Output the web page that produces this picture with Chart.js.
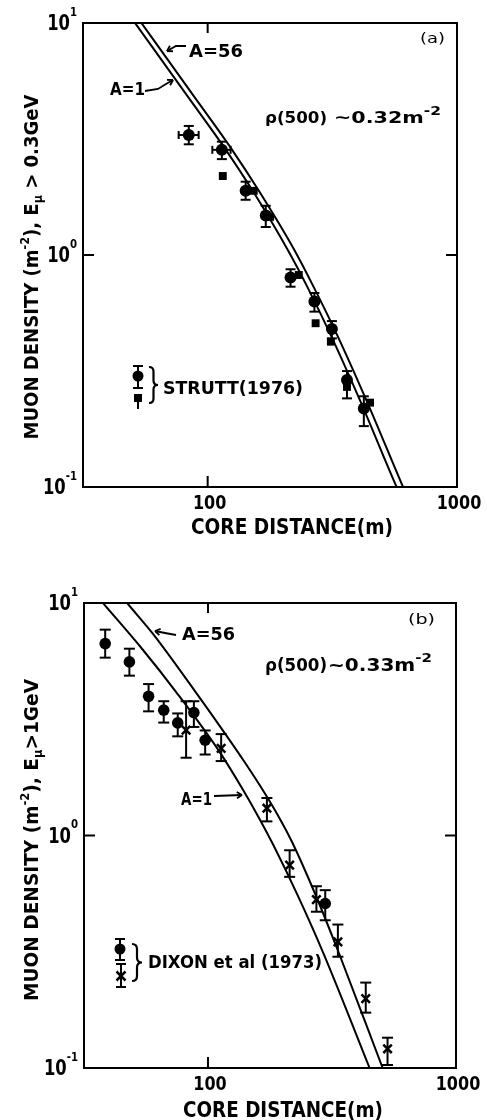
<!DOCTYPE html>
<html><head><meta charset="utf-8">
<script src="https://cdn.jsdelivr.net/npm/chart.js@4/dist/chart.umd.min.js"></script>
<style>
html,body{margin:0;padding:0;background:#fff;}
#wrap{position:relative;width:487px;height:1120px;background:#fff;}
canvas{position:absolute;left:0;}
</style></head><body>
<div id="wrap">
<canvas id="ca" width="487" height="560" style="top:0px"></canvas>
<canvas id="cb" width="487" height="560" style="top:560px"></canvas>
</div>
<script>
// ---------- tick labels ----------
const xTickVals = [100, 1000];
const xTickText = ['100', '1000'];
const yTickVals = [0.1, 1, 10];
const yTickBase = ['10', '10', '10'];
const yTickExp  = ['-1', '0', '1'];

// ---------- panel (a): STRUTT (1976), E_mu > 0.3 GeV ----------
const aCircleX   = [84, 114, 142, 171, 215, 268, 315, 362, 423];
const aCircleY   = [3.29, 2.84, 1.89, 1.48, 0.80, 0.63, 0.48, 0.289, 0.218];
const aCircleLo  = [3.00, 2.59, 1.73, 1.32, 0.73, 0.57, 0.437, 0.241, 0.183];
const aCircleHi  = [3.60, 3.08, 2.07, 1.63, 0.868, 0.686, 0.519, 0.316, 0.246];
const aCircleXLo = [76.5, 104.4, null, null, null, null, null, null, null];
const aCircleXHi = [92, 123.6, null, null, null, null, null, null, null];
const aSquareX   = [115, 153, 178, 232, 271, 312, 362, 448];
const aSquareY   = [2.19, 1.89, 1.46, 0.82, 0.508, 0.423, 0.270, 0.231];
const aA56X = [54, 88, 124, 163, 221, 266, 330, 435, 610, 640];
const aA56Y = [10.07, 4.84, 2.89, 1.84, 1.066, 0.729, 0.454, 0.234, 0.099, 0.088];
const aA1X  = [50.9, 83, 117, 154, 208, 251, 311, 410, 575, 605];
const aA1Y  = [10.07, 4.84, 2.89, 1.84, 1.066, 0.729, 0.454, 0.234, 0.099, 0.088];

// ---------- panel (b): DIXON et al (1973), E_mu > 1 GeV ----------
const bCircleX  = [38.5, 48.2, 57.6, 66.3, 75.5, 87.7, 97.4, 297];
const bCircleY  = [6.69, 5.58, 3.97, 3.46, 3.05, 3.38, 2.57, 0.51];
const bCircleLo = [5.82, 4.87, 3.42, 3.06, 2.67, 2.93, 2.23, 0.432];
const bCircleHi = [7.68, 6.36, 4.48, 3.78, 3.35, 3.78, 2.83, 0.582];
const bCrossX   = [81.6, 113, 172.8, 213.4, 273.6, 334, 432.6, 529.6];
const bCrossY   = [2.84, 2.37, 1.31, 0.745, 0.53, 0.349, 0.199, 0.121];
const bCrossLo  = [2.16, 2.09, 1.15, 0.664, 0.47, 0.301, 0.173, 0.103];
const bCrossHi  = [3.78, 2.73, 1.45, 0.864, 0.605, 0.414, 0.233, 0.135];
const bA56X = [46.2, 47.4, 59.8, 88, 117, 140, 166.5, 194, 218, 270, 338, 502.5, 530];
const bA56Y = [10.3, 9.95, 7.4, 4.22, 2.75, 2.08, 1.565, 1.19, 0.94, 0.563, 0.31, 0.102, 0.088];
const bA1X  = [37.4, 54.5, 74.4, 111, 138, 162, 183, 230, 291.5, 445, 470];
const bA1Y  = [10.1, 6.31, 4.14, 2.30, 1.58, 1.17, 0.915, 0.553, 0.313, 0.102, 0.088];

const FONT = "'DejaVu Sans', sans-serif";
const pts = (xs, ys) => xs.map((x, i) => ({x: x, y: ys[i]}));
const idxOf = (arr, v) => arr.findIndex(t => Math.abs(t - v) < 1e-6 * t);

// ---------- drawing helpers ----------
function seg(ctx, x1, y1, x2, y2) { ctx.beginPath(); ctx.moveTo(x1, y1); ctx.lineTo(x2, y2); ctx.stroke(); }
// parts: [text, kind] kind 0 normal, 1 superscript, -1 subscript
function drawRich(ctx, parts, x, y, size, o) {
  o = o || {};
  const wt = o.bold === false ? '' : 'bold ';
  const segs = parts.map(([s, k]) => {
    const fs = k ? size * (o.supSize || 0.62) : size;
    ctx.font = wt + fs + 'px ' + FONT;
    return {s, k, fs, w: ctx.measureText(s).width};
  });
  const natural = segs.reduce((a, b) => a + b.w, 0);
  const sx = o.w ? o.w / natural : (o.sx || 1);
  const total = natural * sx;
  ctx.save(); ctx.translate(x, y); if (o.rot) ctx.rotate(o.rot);
  let cx = o.align === 'center' ? -total / 2 : o.align === 'right' ? -total : 0;
  ctx.textBaseline = 'alphabetic'; ctx.textAlign = 'left';
  segs.forEach(g => {
    ctx.font = wt + g.fs + 'px ' + FONT;
    const oy = g.k === 1 ? -size * (o.supRaise || 0.45) : g.k === -1 ? size * 0.22 : 0;
    ctx.save(); ctx.translate(cx, oy); ctx.scale(sx, 1); ctx.fillText(g.s, 0, 0); ctx.restore();
    cx += g.w * sx;
  });
  ctx.restore();
}
function drawArrow(ctx, p) {
  ctx.lineWidth = 1.8;
  ctx.beginPath(); ctx.moveTo(p[0][0], p[0][1]);
  for (let i = 1; i < p.length; i++) ctx.lineTo(p[i][0], p[i][1]);
  ctx.stroke();
  const [ax, ay] = p[p.length - 1], [bx, by] = p[p.length - 2];
  const ang = Math.atan2(ay - by, ax - bx), L = 6;
  seg(ctx, ax, ay, ax - L * Math.cos(ang - 0.55), ay - L * Math.sin(ang - 0.55));
  seg(ctx, ax, ay, ax - L * Math.cos(ang + 0.55), ay - L * Math.sin(ang + 0.55));
}
function drawBrace(ctx, x, y1, y2, w) {
  const ym = (y1 + y2) / 2, h = w / 2;
  ctx.lineWidth = 2.2;
  ctx.beginPath();
  ctx.moveTo(x, y1);
  ctx.quadraticCurveTo(x + h, y1, x + h, y1 + h);
  ctx.lineTo(x + h, ym - h);
  ctx.quadraticCurveTo(x + h, ym, x + w, ym);
  ctx.quadraticCurveTo(x + h, ym, x + h, ym + h);
  ctx.lineTo(x + h, y2 - h);
  ctx.quadraticCurveTo(x + h, y2, x, y2);
  ctx.stroke();
}
function drawKey(ctx, k, dy) {
  const y = k.y - dy;
  ctx.lineWidth = 2;
  if (k.lo != null) {
    const lo = k.lo - dy, hi = k.hi - dy;
    seg(ctx, k.x, lo, k.x, hi); seg(ctx, k.x - 5, lo, k.x + 5, lo); seg(ctx, k.x - 5, hi, k.x + 5, hi);
  }
  if (k.tail != null) seg(ctx, k.x, y, k.x, k.tail - dy);
  if (k.type === 'circle') { ctx.beginPath(); ctx.arc(k.x, y, k.r, 0, 2 * Math.PI); ctx.fill(); }
  if (k.type === 'square') { ctx.fillRect(k.x - 4, y - 4, 8, 8); }
  if (k.type === 'cross') {
    ctx.lineWidth = 2.5;
    seg(ctx, k.x - 4.5, y - 4.5, k.x + 4.5, y + 4.5); seg(ctx, k.x - 4.5, y + 4.5, k.x + 4.5, y - 4.5);
  }
}

// ---------- plugins ----------
const framePlugin = {
  id: 'frame',
  beforeDatasetsDraw(chart) {
    const {ctx, chartArea: a, scales: {x, y}} = chart;
    ctx.save(); ctx.strokeStyle = '#000'; ctx.fillStyle = '#000'; ctx.lineWidth = 2;
    ctx.strokeRect(a.left, a.top, a.right - a.left, a.bottom - a.top);
    // inward tick marks at the interior decades
    y.ticks.forEach(t => { const p = y.getPixelForValue(t.value); if (p > a.top + 2 && p < a.bottom - 2) { seg(ctx, a.left, p, a.left + 11, p); seg(ctx, a.right, p, a.right - 11, p); } });
    x.ticks.forEach(t => { const p = x.getPixelForValue(t.value); if (p > a.left + 2 && p < a.right - 2) { seg(ctx, p, a.bottom, p, a.bottom - 11); seg(ctx, p, a.top, p, a.top + 10); } });
    // tick labels, placed from the library's scale ticks
    y.ticks.forEach(t => {
      const i = idxOf(yTickVals, t.value); if (i < 0) return;
      const p = y.getPixelForValue(t.value);
      drawRich(ctx, [[yTickBase[i], 0], [yTickExp[i], 1]], a.left - 6, p + 7, 21, {align: 'right', sx: 0.78, supRaise: 0.68});
    });
    x.ticks.forEach(t => {
      const i = idxOf(xTickVals, t.value); if (i < 0) return;
      const p = x.getPixelForValue(t.value);
      drawRich(ctx, [[xTickText[i], 0]], p + 2, a.bottom + 22, 20, {align: 'center', sx: 0.8});
    });
    ctx.restore();
  }
};
const errPlugin = {
  id: 'errbars',
  beforeDatasetsDraw(chart) {
    const {ctx, scales: {x, y}} = chart;
    ctx.save(); ctx.strokeStyle = '#000'; ctx.lineWidth = 2;
    chart.data.datasets.forEach(ds => {
      if (!ds.errLo) return;
      const c = ds.capHalf || 5;
      ds.data.forEach((p, i) => {
        const px = x.getPixelForValue(p.x), py = y.getPixelForValue(p.y);
        const lo = y.getPixelForValue(ds.errLo[i]), hi = y.getPixelForValue(ds.errHi[i]);
        seg(ctx, px, lo, px, hi); seg(ctx, px - c, lo, px + c, lo); seg(ctx, px - c, hi, px + c, hi);
        if (ds.errXLo && ds.errXLo[i] != null) {
          const l = x.getPixelForValue(ds.errXLo[i]), r = x.getPixelForValue(ds.errXHi[i]);
          seg(ctx, l, py, r, py); seg(ctx, l, py - 4, l, py + 4); seg(ctx, r, py - 4, r, py + 4);
        }
      });
    });
    ctx.restore();
  }
};
const notesPlugin = {
  id: 'notes',
  afterDraw(chart, args, o) {
    const ctx = chart.ctx, dy = o.offsetY || 0;
    ctx.save(); ctx.fillStyle = '#000'; ctx.strokeStyle = '#000';
    (o.texts || []).forEach(t => drawRich(ctx, t.parts, t.x, t.y - dy, t.size, t));
    (o.arrows || []).forEach(a => drawArrow(ctx, a.map(p => [p[0], p[1] - dy])));
    (o.braces || []).forEach(b => drawBrace(ctx, b.x, b.y1 - dy, b.y2 - dy, b.w));
    (o.keys || []).forEach(k => drawKey(ctx, k, dy));
    ctx.restore();
  }
};

function lineDs(xs, ys) {
  return {data: pts(xs, ys), showLine: true, pointRadius: 0, borderColor: '#000', borderWidth: 2,
          cubicInterpolationMode: 'monotone', fill: false};
}

function buildChart(id, p) {
  return new Chart(document.getElementById(id), {
    type: 'scatter',
    data: {datasets: p.datasets},
    options: {
      responsive: false, animation: false, devicePixelRatio: 1,
      layout: {padding: {left: 0, top: p.top, right: p.right, bottom: 0}},
      plugins: {legend: {display: false}, tooltip: {enabled: false}, notes: p.notes},
      scales: {
        x: {type: 'logarithmic', min: Math.pow(10, 1.5), max: 1000, position: 'bottom',
            grid: {display: false, drawTicks: false}, border: {display: false},
            ticks: {display: false, autoSkip: false},
            afterBuildTicks: s => { s.ticks = xTickVals.map(v => ({value: v})); },
            afterFit: s => { s.height = p.xh; }},
        y: {type: 'logarithmic', min: 0.1, max: 10, position: 'left',
            grid: {display: false, drawTicks: false}, border: {display: false},
            ticks: {display: false, autoSkip: false},
            afterBuildTicks: s => { s.ticks = yTickVals.map(v => ({value: v})); },
            afterFit: s => { s.width = p.yw; }}
      }
    },
    plugins: [framePlugin, errPlugin, notesPlugin]
  });
}

// ---------- panel (a) ----------
buildChart('ca', {
  top: 23, right: 30, xh: 73, yw: 83,
  datasets: [
    lineDs(aA56X, aA56Y),
    lineDs(aA1X, aA1Y),
    {data: pts(aCircleX, aCircleY), errLo: aCircleLo, errHi: aCircleHi, errXLo: aCircleXLo, errXHi: aCircleXHi, capHalf: 5,
     pointStyle: 'circle', pointRadius: 6, backgroundColor: '#000', borderColor: '#000', borderWidth: 0},
    {data: pts(aSquareX, aSquareY), pointStyle: 'rect', pointRadius: 5.6, backgroundColor: '#000', borderColor: '#000', borderWidth: 0}
  ],
  notes: {
    offsetY: 0,
    texts: [
      {parts: [['(a)', 0]], x: 420, y: 43, size: 14, w: 25, bold: false},
      {parts: [['A=56', 0]], x: 189, y: 57, size: 18.5, w: 54},
      {parts: [['A=1', 0]], x: 110, y: 95, size: 17, w: 35},
      {parts: [['\u03C1(500)', 0]], x: 265, y: 123, size: 16.5, w: 62},
      {parts: [['~0.32m', 0], ['-2', 1]], x: 334, y: 123, size: 16.5, w: 107, supRaise: 0.5, supSize: 0.75},
      {parts: [['STRUTT(1976)', 0]], x: 163, y: 394, size: 18, w: 140},
      {parts: [['CORE DISTANCE(m)', 0]], x: 292, y: 534, size: 21, w: 202, align: 'center'},
      {parts: [['MUON DENSITY (m', 0], ['-2', 1], ['), E', 0], ['\u03BC', -1], [' > 0.3GeV', 0]], x: 38, y: 267, size: 19, w: 345, rot: -Math.PI / 2, align: 'center'}
    ],
    arrows: [
      [[186, 46], [176, 46], [167, 51]],
      [[145, 91], [158, 89], [166, 84], [173, 80]]
    ],
    braces: [{x: 149, y1: 367, y2: 403, w: 9}],
    keys: [
      {type: 'circle', x: 138, y: 376, lo: 366, hi: 388, r: 5.5},
      {type: 'square', x: 138, y: 398, tail: 409}
    ]
  }
});

// ---------- panel (b) ----------
buildChart('cb', {
  top: 43, right: 31, xh: 52, yw: 84,
  datasets: [
    lineDs(bA56X, bA56Y),
    lineDs(bA1X, bA1Y),
    {data: pts(bCircleX, bCircleY), errLo: bCircleLo, errHi: bCircleHi, capHalf: 5.5,
     pointStyle: 'circle', pointRadius: 5.8, backgroundColor: '#000', borderColor: '#000', borderWidth: 0},
    {data: pts(bCrossX, bCrossY), errLo: bCrossLo, errHi: bCrossHi, capHalf: 5.5,
     pointStyle: 'crossRot', pointRadius: 6, backgroundColor: '#000', borderColor: '#000', borderWidth: 2.5}
  ],
  notes: {
    offsetY: 560,
    texts: [
      {parts: [['(b)', 0]], x: 408, y: 624, size: 14, w: 27, bold: false},
      {parts: [['A=56', 0]], x: 182, y: 640, size: 18.5, w: 53},
      {parts: [['\u03C1(500)', 0]], x: 265, y: 671, size: 17, w: 62},
      {parts: [['~0.33m', 0], ['-2', 1]], x: 328, y: 671, size: 17, w: 104, supRaise: 0.55, supSize: 0.75},
      {parts: [['A=1', 0]], x: 181, y: 805, size: 18, w: 31},
      {parts: [['DIXON et al (1973)', 0]], x: 148, y: 968, size: 17.5, w: 174},
      {parts: [['CORE DISTANCE(m)', 0]], x: 283, y: 1117, size: 21, w: 200, align: 'center'},
      {parts: [['MUON DENSITY (m', 0], ['-2', 1], ['), E', 0], ['\u03BC', -1], ['>1GeV', 0]], x: 38, y: 840, size: 19, w: 322, rot: -Math.PI / 2, align: 'center'}
    ],
    arrows: [
      [[176, 635], [165, 633], [155, 631]],
      [[214, 796], [242, 795]]
    ],
    braces: [{x: 132, y1: 944, y2: 981, w: 10}],
    keys: [
      {type: 'circle', x: 120, y: 949, lo: 939, hi: 960, r: 5.5},
      {type: 'cross', x: 121, y: 976, lo: 964, hi: 987}
    ]
  }
});
</script>
</body></html>
